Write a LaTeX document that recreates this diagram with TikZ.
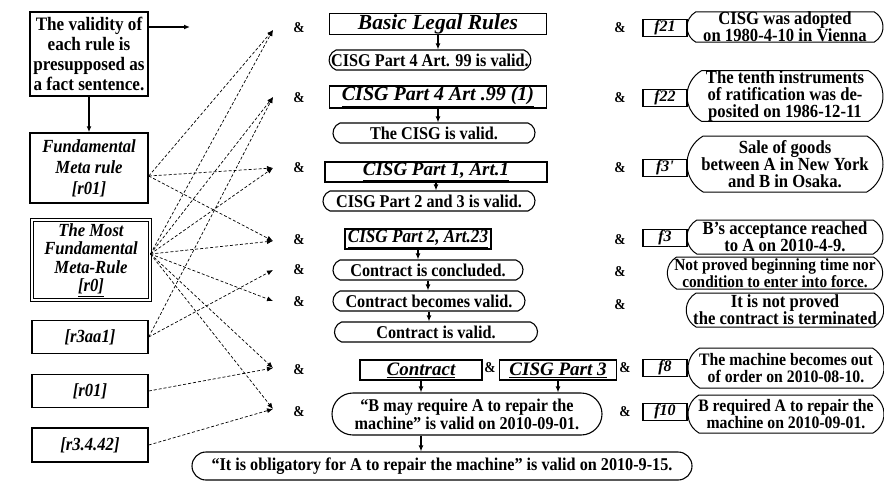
\documentclass[tikz,border=0pt]{standalone}
\usepackage{fontspec}
\setmainfont{Liberation Serif}[FakeStretch=0.9]
\newfontfamily\headfont{Liberation Serif}
\usetikzlibrary{arrows.meta,shapes.misc}

\begin{document}
\begin{tikzpicture}[x=1pt,y=-1pt,>={Latex[length=6pt,width=5pt]},
  rulebox/.style={draw,line width=1.5pt,inner sep=1pt,align=center,font=\bfseries\itshape\fontsize{18.5}{21}\selectfont},
  lawbox/.style={draw,line width=1.4pt,inner sep=1pt,minimum height=20pt,font=\headfont\bfseries\itshape\fontsize{19}{20}\selectfont},
  valid/.style={draw,rounded rectangle,rounded rectangle arc length=140,line width=1.1pt,inner xsep=0pt,inner ysep=1pt,minimum height=20pt,align=center,font=\bfseries\fontsize{18}{18}\selectfont},
  fact/.style={draw,line width=1.1pt,inner sep=1pt,minimum width=44pt,minimum height=17pt,font=\headfont\bfseries\itshape\fontsize{16}{16}\selectfont},
  ground/.style={draw,rounded rectangle,rounded rectangle arc length=120,line width=1pt,inner xsep=0pt,inner ysep=0pt,minimum width=196pt,align=center,font=\bfseries\fontsize{18.5}{17}\selectfont},
  amp/.style={font=\bfseries\fontsize{15}{15}\selectfont},
  support/.style={->,densely dashed,line width=0.7pt}]

\useasboundingbox (0,0) rectangle (884,485);

% left column: the rules
\node[rulebox,font=\bfseries\fontsize{19}{20}\selectfont,minimum width=118pt,minimum height=84pt] (presup) at (89,54) {The validity of\\each rule is\\presupposed as\\a fact sentence.};
\node[rulebox,minimum width=118pt,minimum height=70pt] (fmr) at (89,168) {Fundamental\\Meta rule\\{[r01]}};
\node[rulebox,line width=0.9pt,double,double distance=2pt,minimum width=118pt,minimum height=80pt,font=\bfseries\itshape\fontsize{18.5}{18.5}\selectfont] (mfr) at (91,260) {The Most\\Fundamental\\Meta-Rule\\{\underline{[r0]}}};
\node[rulebox,minimum width=116pt,minimum height=33pt] (raa) at (90,337) {[r3aa1]};
\node[rulebox,minimum width=116pt,minimum height=33pt] (rzo) at (90,391) {[r01]};
\node[rulebox,minimum width=116pt,minimum height=34pt] (rfz) at (90,445) {[r3.4.42]};

\coordinate (out) at (190,27);
\draw[->,line width=1.6pt] (presup.east |- out) -- (out);
\draw[->,line width=1.6pt] (presup.south) -- (fmr.north);

% the & column
\node[amp] (m1) at (299,28) {\&};
\node[amp] (m2) at (299,98) {\&};
\node[amp] (m3) at (299,168) {\&};
\node[amp] (m4) at (299,240) {\&};
\node[amp] (m5) at (299,270) {\&};
\node[amp] (m6) at (299,302) {\&};
\node[amp] (m7) at (299,370) {\&};
\node[amp] (m8) at (299,412) {\&};
\coordinate (t1) at (273,30);
\coordinate (t2) at (273,97);
\coordinate (t3) at (273,168);
\coordinate (t4) at (273,241);
\coordinate (t5) at (273,270);
\coordinate (t6) at (273,301);
\coordinate (t7) at (273,368);
\coordinate (t8) at (273,409);

\draw[support] ([yshift=-8pt]fmr.east) -- (t1);
\draw[support] ([yshift=-8pt]fmr.east) -- (t3);
\draw[support] ([yshift=-8pt]fmr.east) -- (t4);
\draw[support] ([yshift=6pt]mfr.east) -- (t1);
\draw[support] ([yshift=6pt]mfr.east) -- (t2);
\draw[support] ([yshift=6pt]mfr.east) -- (t3);
\draw[support] ([yshift=6pt]mfr.east) -- (t4);
\draw[support] ([yshift=6pt]mfr.east) -- (t6);
\draw[support] ([yshift=6pt]mfr.east) -- (t7);
\draw[support] ([yshift=6pt]mfr.east) -- (t8);
\draw[support] (raa.east) -- (t2);
\draw[support] (raa.east) -- (t5);
\draw[support] (rzo.east) -- (t7);
\draw[support] (rfz.east) -- (t8);

% middle column: legal rules and what they give
\node[lawbox,minimum width=217pt,font=\headfont\bfseries\itshape\fontsize{21.5}{20}\selectfont] (blr) at (438,24) {Basic Legal Rules};
\node[valid,minimum width=196pt] (v99) at (430,60) {CISG Part 4 Art. 99 is valid.};
\node[lawbox,minimum width=217pt,font=\headfont\bfseries\itshape\fontsize{20}{20}\selectfont] (a99) at (438,97) {\underline{CISG Part 4 Art .99 (1)}};
\node[valid,minimum width=202pt] (cisgv) at (434,133) {The CISG is valid.};
\node[lawbox,minimum width=222pt] (a1) at (436,172) {\underline{CISG Part 1, Art.1}};
\node[valid,minimum width=212pt] (p23v) at (429,201) {CISG Part 2 and 3 is valid.};
\node[lawbox,minimum width=146pt,font=\bfseries\itshape\fontsize{19}{20}\selectfont] (a23) at (418,239) {\underline{CISG Part 2, Art.23}};
\node[valid,minimum width=190pt] (concl) at (428,270) {Contract is concluded.};
\node[valid,minimum width=192pt] (becv) at (429,301) {Contract becomes valid.};
\node[valid,minimum width=203pt] (isv) at (436,332) {Contract is valid.};
\node[lawbox,minimum width=122pt] (contr) at (421,370) {\underline{Contract}};
\node[amp] (mid) at (490,368) {\&};
\node[lawbox,minimum width=117pt] (p3) at (558,370) {\underline{CISG Part 3}};
\node[valid,rounded rectangle arc length=180,minimum width=270pt,minimum height=42pt] (bmay) at (467,414) {“B may require A to repair the\\machine” is valid on 2010-09-01.};
\node[valid,rounded rectangle arc length=180,minimum width=500pt,minimum height=28pt] (oblig) at (442,466) {“It is obligatory for A to repair the machine” is valid on 2010-9-15.};

\draw[->,line width=1.4pt] (blr.south) -- (blr.south |- v99.north);
\draw[->,line width=1.4pt] (a99.south) -- (a99.south |- cisgv.north);
\draw[->,line width=1.4pt] (a1.south) -- (a1.south |- p23v.north);
\draw[->,line width=1.4pt] (a23.south) -- (a23.south |- concl.north);
\draw[->,line width=1.4pt] (concl.south) -- (concl.south |- becv.north);
\draw[->,line width=1.4pt] (becv.south) -- (becv.south |- isv.north);
\draw[->,line width=1.4pt] (contr.south) -- (contr.south |- bmay.north);
\draw[->,line width=1.4pt] (p3.south) -- (p3.south |- bmay.north);
\draw[->,line width=1.4pt] (contr.south |- bmay.south) -- (contr.south |- oblig.north);

% right column: facts
\node[amp] (n1) at (620,28) {\&};
\node[amp] (n2) at (620,98) {\&};
\node[amp] (n3) at (620,168) {\&};
\node[amp] (n4) at (620,240) {\&};
\node[amp] (n5) at (620,272) {\&};
\node[amp] (n6) at (620,305) {\&};
\node[amp] (n7) at (625,368) {\&};
\node[amp] (n8) at (625,412) {\&};

\node[fact] (f21) at (665,28) {f21};
\node[fact] (f22) at (665,98) {f22};
\node[fact] (f3p) at (665,168) {f3'};
\node[fact] (f3) at (665,238) {f3};
\node[fact] (f8) at (665,368) {f8};
\node[fact] (f10) at (665,412) {f10};

\node[ground,minimum height=30pt] (g21) at (785,27) {CISG was adopted\\on 1980-4-10 in Vienna};
\node[ground,minimum height=48pt] (g22) at (785,96) {The tenth instruments\\of ratification was de-\\posited on 1986-12-11};
\node[ground,minimum height=56pt] (g3p) at (785,164) {Sale of goods\\between A in New York\\and B in Osaka.};
\node[ground,minimum height=34pt] (g3) at (785,237) {B's acceptance reached\\to A on 2010-4-9.};
\node[ground,minimum width=210pt,minimum height=32pt,font=\bfseries\fontsize{17}{17}\selectfont] (gnp) at (775,273) {Not proved beginning time nor\\condition to enter into force.};
\node[ground,minimum height=34pt] (gterm) at (785,310) {It is not proved\\the contract is terminated};
\node[ground,minimum height=40pt,font=\bfseries\fontsize{17.5}{17}\selectfont] (g8) at (786,368) {The machine becomes out\\of order on 2010-08-10.};
\node[ground,minimum height=38pt,font=\bfseries\fontsize{17.5}{17}\selectfont] (g10) at (786,414) {B required A to repair the\\machine on 2010-09-01.};
\end{tikzpicture}
\end{document}
